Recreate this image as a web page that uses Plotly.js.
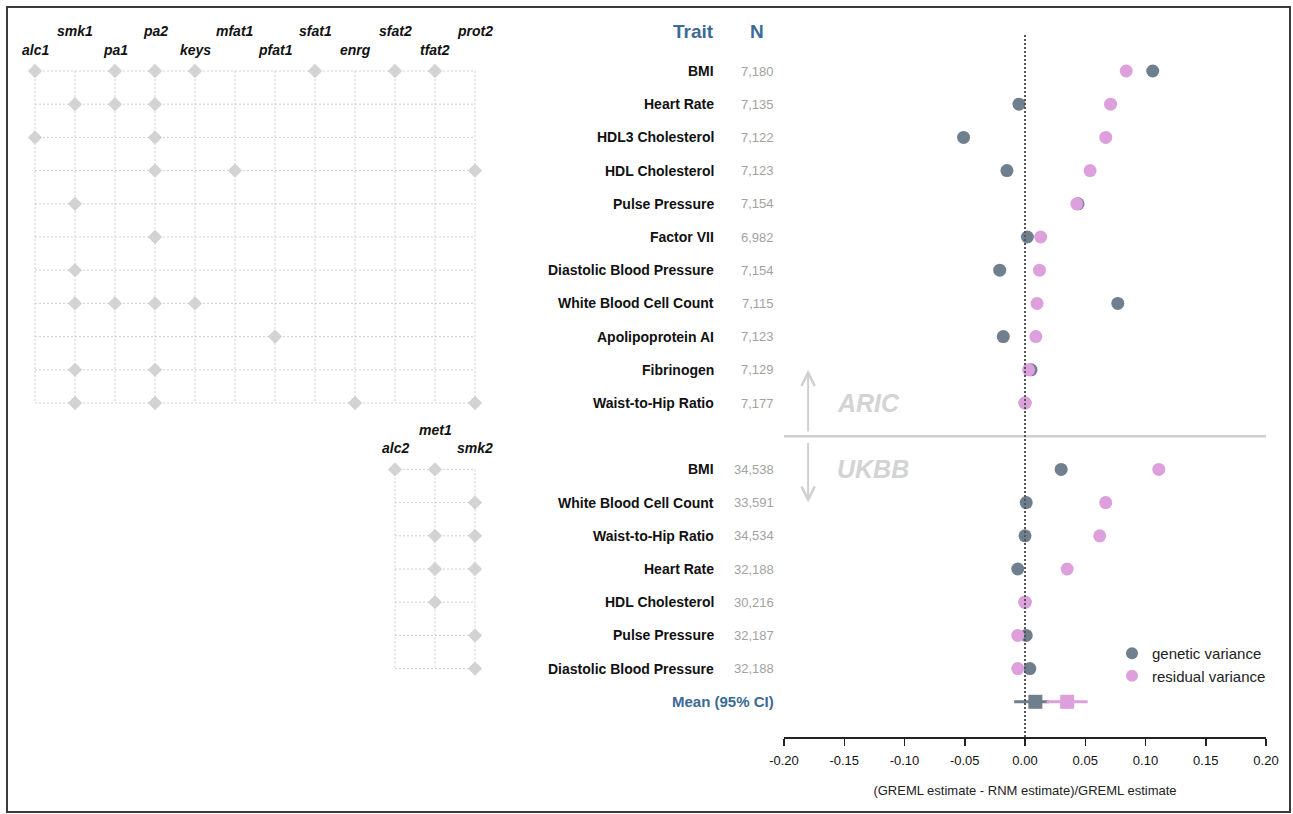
<!DOCTYPE html>
<html><head><meta charset="utf-8">
<script src="https://cdn.plot.ly/plotly-3.0.1.min.js"></script>
<style>html,body{margin:0;padding:0;background:#fff;} #chart{width:1293px;height:814px;}</style>
</head><body><div id="chart"></div>
<script>
// ---------------- DATA ----------------
const aricTraits = ['BMI','Heart Rate','HDL3 Cholesterol','HDL Cholesterol','Pulse Pressure','Factor VII',
  'Diastolic Blood Pressure','White Blood Cell Count','Apolipoprotein AI','Fibrinogen','Waist-to-Hip Ratio'];
const aricN = ['7,180','7,135','7,122','7,123','7,154','6,982','7,154','7,115','7,123','7,129','7,177'];
const aricGenetic  = [0.106, -0.005, -0.051, -0.015, 0.044, 0.002, -0.021, 0.077, -0.018, 0.005, 0.000];
const aricResidual = [0.084,  0.071,  0.067,  0.054, 0.043, 0.013,  0.012, 0.010,  0.009, 0.003, 0.000];

const ukbbTraits = ['BMI','White Blood Cell Count','Waist-to-Hip Ratio','Heart Rate','HDL Cholesterol',
  'Pulse Pressure','Diastolic Blood Pressure'];
const ukbbN = ['34,538','33,591','34,534','32,188','30,216','32,187','32,188'];
const ukbbGenetic  = [0.030, 0.001, 0.000, -0.006, 0.000,  0.001,  0.004];
const ukbbResidual = [0.111, 0.067, 0.062,  0.035, 0.000, -0.006, -0.006];

const meanLabel = 'Mean (95% CI)';
const meanGenetic  = 0.0086, meanGeneticLo = -0.009, meanGeneticHi = 0.020;
const meanResidual = 0.035,  meanResidualLo = 0.018, meanResidualHi = 0.052;

const aricCovariates = ['alc1','smk1','pa1','pa2','keys','mfat1','pfat1','sfat1','enrg','sfat2','tfat2','prot2'];
const aricSelected = [
  ['alc1','pa1','pa2','keys','sfat1','sfat2','tfat2'],
  ['smk1','pa1','pa2'],
  ['alc1','pa2'],
  ['pa2','mfat1','prot2'],
  ['smk1'],
  ['pa2'],
  ['smk1'],
  ['smk1','pa1','pa2','keys'],
  ['pfat1'],
  ['smk1','pa2'],
  ['smk1','pa2','enrg','prot2']
];
const ukbbCovariates = ['alc2','met1','smk2'];
const ukbbSelected = [
  ['alc2','met1'],
  ['smk2'],
  ['met1','smk2'],
  ['met1','smk2'],
  ['met1'],
  ['smk2'],
  ['smk2']
];

const tickValues = [-0.20,-0.15,-0.10,-0.05,0.00,0.05,0.10,0.15,0.20];
const tickLabels = ['-0.20','-0.15','-0.10','-0.05','0.00','0.05','0.10','0.15','0.20'];
const xTitle = '(GREML estimate - RNM estimate)/GREML estimate';

// ---------------- LAYOUT HELPERS ----------------
const W = 1293, H = 814, MT = 10, MB = 77;
const plotH = H - MT - MB;
const pxX = p => p / W;
const pxY = p => (H - MB - p) / plotH;

const FONT = '"Liberation Sans", Arial, Helvetica, sans-serif';
const genColor = '#6f7f8e';
const resColor = '#dda0dd';
const blue = '#3c6a95';
const gridColor = '#cfcfcf';
const diamondColor = '#d3d3d3';

const aricRows = aricTraits.map((_, i) => i);
const sepRow = aricTraits.length;
const ukbbRows = ukbbTraits.map((_, i) => sepRow + 1 + i);
const meanRow = sepRow + 1 + ukbbTraits.length;
const lowerOffset = aricCovariates.length - ukbbCovariates.length;

// ---------------- TRACES ----------------
function gridLines(cols, rows, colOffset) {
  const x = [], y = [];
  const c0 = colOffset, c1 = colOffset + cols.length - 1;
  rows.forEach(r => { x.push(c0, c1, null); y.push(r, r, null); });
  cols.forEach((_, i) => { x.push(c0 + i, c0 + i, null); y.push(rows[0], rows[rows.length - 1], null); });
  return { x, y, mode: 'lines', xaxis: 'x2', yaxis: 'y', showlegend: false, hoverinfo: 'skip',
    line: { color: gridColor, width: 1, dash: '2px,2px' } };
}
function diamonds(cols, selected, rows, colOffset) {
  const x = [], y = [];
  selected.forEach((names, i) => names.forEach(n => { x.push(colOffset + cols.indexOf(n)); y.push(rows[i]); }));
  return { x, y, mode: 'markers', xaxis: 'x2', yaxis: 'y', showlegend: false, hoverinfo: 'skip',
    marker: { symbol: 'diamond', size: 11, color: diamondColor } };
}

const traces = [
  gridLines(aricCovariates, aricRows, 0),
  gridLines(ukbbCovariates, ukbbRows, lowerOffset),
  diamonds(aricCovariates, aricSelected, aricRows, 0),
  diamonds(ukbbCovariates, ukbbSelected, ukbbRows, lowerOffset),
  { x: aricGenetic.concat(ukbbGenetic), y: aricRows.concat(ukbbRows), mode: 'markers',
    name: 'genetic variance', xaxis: 'x', yaxis: 'y',
    marker: { size: 13, color: genColor } },
  { x: aricResidual.concat(ukbbResidual), y: aricRows.concat(ukbbRows), mode: 'markers',
    name: 'residual variance', xaxis: 'x', yaxis: 'y',
    marker: { size: 13, color: resColor } },
  { x: [meanGenetic], y: [meanRow], mode: 'markers', showlegend: false, xaxis: 'x', yaxis: 'y',
    marker: { symbol: 'square', size: 14, color: genColor },
    error_x: { type: 'data', symmetric: false, array: [meanGeneticHi - meanGenetic],
      arrayminus: [meanGenetic - meanGeneticLo], width: 0, thickness: 3, color: genColor } },
  { x: [meanResidual], y: [meanRow], mode: 'markers', showlegend: false, xaxis: 'x', yaxis: 'y',
    marker: { symbol: 'square', size: 14, color: resColor },
    error_x: { type: 'data', symmetric: false, array: [meanResidualHi - meanResidual],
      arrayminus: [meanResidual - meanResidualLo], width: 0, thickness: 3, color: resColor } }
];

// ---------------- ANNOTATIONS ----------------
const ann = [];
const labelRight = pxX(716), nRight = pxX(776);
function traitLabels(traits, ns, rows) {
  traits.forEach((t, i) => {
    ann.push({ xref: 'paper', yref: 'y', x: labelRight, y: rows[i], xanchor: 'right', yanchor: 'middle',
      text: '<b>' + t + '</b>', showarrow: false, font: { family: FONT, size: 14, color: '#111' } });
    ann.push({ xref: 'paper', yref: 'y', x: nRight, y: rows[i], xanchor: 'right', yanchor: 'middle',
      text: ns[i], showarrow: false, font: { family: FONT, size: 13, color: '#a2a2a2' } });
  });
}
traitLabels(aricTraits, aricN, aricRows);
traitLabels(ukbbTraits, ukbbN, ukbbRows);
ann.push({ xref: 'paper', yref: 'y', x: labelRight, y: -1.2, xanchor: 'right', yanchor: 'middle',
  text: '<b>Trait</b>', showarrow: false, font: { family: FONT, size: 19, color: blue } });
ann.push({ xref: 'paper', yref: 'y', x: pxX(757), y: -1.2, xanchor: 'center', yanchor: 'middle',
  text: '<b>N</b>', showarrow: false, font: { family: FONT, size: 19, color: blue } });
ann.push({ xref: 'paper', yref: 'y', x: nRight, y: meanRow, xanchor: 'right', yanchor: 'middle',
  text: '<b>' + meanLabel + '</b>', showarrow: false, font: { family: FONT, size: 15, color: blue } });

function covLabels(cols, firstRow, colOffset) {
  cols.forEach((c, i) => {
    const high = (i % 2) === 1;
    ann.push({ xref: 'x2', yref: 'y', x: colOffset + i, y: firstRow + (high ? -1.2 : -0.63),
      xanchor: 'center', yanchor: 'middle', showarrow: false,
      text: '<b><i>' + c + '</i></b>', font: { family: FONT, size: 14, color: '#111' } });
  });
}
covLabels(aricCovariates, aricRows[0], 0);
covLabels(ukbbCovariates, ukbbRows[0], lowerOffset);

const cohortX = -0.158, arrowX = -0.180;
ann.push({ xref: 'x', yref: 'y', x: cohortX, y: aricRows[aricRows.length - 1], xanchor: 'left', yanchor: 'middle',
  text: '<b><i>ARIC</i></b>', showarrow: false, font: { family: FONT, size: 25, color: '#d3d3d3' } });
ann.push({ xref: 'x', yref: 'y', x: cohortX, y: ukbbRows[0], xanchor: 'left', yanchor: 'middle',
  text: '<b><i>UKBB</i></b>', showarrow: false, font: { family: FONT, size: 25, color: '#d3d3d3' } });
ann.push({ xref: 'x', yref: 'y', x: arrowX, y: sepRow - 2, axref: 'x', ayref: 'y', ax: arrowX, ay: sepRow - 0.1,
  text: '', showarrow: true, arrowhead: 5, arrowsize: 1.3, arrowwidth: 2, arrowcolor: '#d0d0d0' });
ann.push({ xref: 'x', yref: 'y', x: arrowX, y: sepRow + 2, axref: 'x', ayref: 'y', ax: arrowX, ay: sepRow + 0.15,
  text: '', showarrow: true, arrowhead: 5, arrowsize: 1.3, arrowwidth: 2, arrowcolor: '#d0d0d0' });

// ---------------- SHAPES ----------------
const shapes = [
  { type: 'line', xref: 'x', yref: 'y', x0: tickValues[0], x1: tickValues[tickValues.length - 1], y0: sepRow, y1: sepRow,
    line: { color: '#cfcfcf', width: 2.5 }, layer: 'below' },
  { type: 'line', xref: 'x', yref: 'paper', x0: 0, x1: 0, y0: 0, y1: pxY(35),
    line: { color: '#555', width: 2, dash: '2px,2px' }, layer: 'above' },
  { type: 'rect', xref: 'paper', yref: 'paper', x0: pxX(7), x1: pxX(1290), y0: pxY(812), y1: pxY(7),
    line: { color: '#3a3a3a', width: 2 }, fillcolor: 'rgba(0,0,0,0)', layer: 'above' }
];

const layout = {
  width: W, height: H,
  margin: { l: 0, r: 0, t: MT, b: MB, pad: 0 },
  paper_bgcolor: '#fff', plot_bgcolor: 'rgba(0,0,0,0)',
  font: { family: FONT, color: '#111' },
  showlegend: true,
  legend: { x: pxX(1112), y: pxY(637), xanchor: 'left', yanchor: 'top', bgcolor: 'rgba(0,0,0,0)',
    font: { family: FONT, size: 15, color: '#222' }, itemsizing: 'constant', tracegroupgap: 0 },
  xaxis: { domain: [pxX(784), pxX(1266)], range: [tickValues[0], tickValues[tickValues.length - 1]],
    anchor: 'y', tickmode: 'array', tickvals: tickValues, ticktext: tickLabels,
    ticks: 'outside', ticklen: 7, tickwidth: 1.5, tickcolor: '#222', ticklabelstandoff: 4,
    showline: true, linecolor: '#222', linewidth: 1.5, showgrid: false, zeroline: false,
    tickfont: { family: FONT, size: 13, color: '#111' },
    title: { text: xTitle, font: { family: FONT, size: 13, color: '#222' }, standoff: 19 } },
  xaxis2: { domain: [0, 1], range: [-35 / 40, (W - 35) / 40], anchor: 'y', visible: false, fixedrange: true },
  yaxis: { domain: [0, 1], range: [(737 - 71) / 33.2, -(71 - 10) / 33.2], visible: false, anchor: 'x' },
  shapes: shapes,
  annotations: ann
};

Plotly.newPlot('chart', traces, layout, { displayModeBar: false, staticPlot: true });
</script>
</body></html>
